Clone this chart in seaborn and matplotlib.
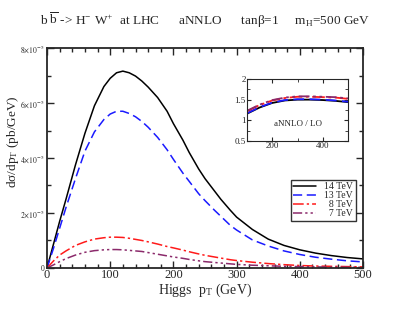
import numpy as np
import pandas as pd
import matplotlib
matplotlib.use("Agg")
import matplotlib.pyplot as plt
import seaborn as sns
from matplotlib.ticker import MultipleLocator, FixedLocator

# values (pT in GeV, dsigma/dpT in units of 1e-5 pb/GeV)
pt = [0, 10, 20, 30, 45, 60, 75, 90, 100, 110, 120, 130, 140, 150, 160, 175, 190,
      200, 215, 225, 240, 250, 265, 275, 290, 300, 325, 350, 375, 400, 425, 450, 475, 500]
xs14 = [0, 0.85, 1.7, 2.5, 3.75, 4.9, 5.9, 6.6, 6.9, 7.1, 7.16, 7.1, 6.98, 6.8, 6.58, 6.2, 5.7,
        5.25, 4.65, 4.2, 3.6, 3.25, 2.8, 2.5, 2.1, 1.85, 1.4, 1.05, 0.82, 0.66, 0.54, 0.45, 0.38, 0.33]
xs13 = [0, 0.7, 1.45, 2.2, 3.25, 4.25, 4.95, 5.4, 5.6, 5.7, 5.7, 5.62, 5.5, 5.33, 5.12, 4.75, 4.3,
        3.95, 3.45, 3.15, 2.7, 2.45, 2.1, 1.88, 1.55, 1.38, 1.02, 0.8, 0.62, 0.49, 0.39, 0.32, 0.26, 0.22]
xs8 = [0, 0.25, 0.47, 0.62, 0.82, 0.95, 1.05, 1.1, 1.12, 1.12, 1.11, 1.08, 1.04, 1.0, 0.95, 0.87, 0.78,
       0.73, 0.65, 0.59, 0.51, 0.46, 0.4, 0.36, 0.3, 0.27, 0.21, 0.16, 0.12, 0.09, 0.07, 0.06, 0.05, 0.04]
xs7 = [0, 0.11, 0.23, 0.34, 0.47, 0.57, 0.63, 0.66, 0.67, 0.67, 0.66, 0.64, 0.62, 0.6, 0.56, 0.5, 0.44,
       0.4, 0.35, 0.31, 0.26, 0.23, 0.2, 0.18, 0.15, 0.13, 0.1, 0.08, 0.06, 0.05, 0.04, 0.03, 0.025, 0.02]

# inset: aNNLO / LO ratio
pt_r = [100, 150, 200, 250, 300, 350, 400, 450, 500]
r14 = [1.16, 1.31, 1.42, 1.48, 1.50, 1.50, 1.49, 1.47, 1.44]
r13 = [1.17, 1.32, 1.43, 1.49, 1.51, 1.51, 1.50, 1.48, 1.45]
r8 = [1.22, 1.37, 1.48, 1.54, 1.57, 1.57, 1.56, 1.55, 1.52]
r7 = [1.23, 1.38, 1.49, 1.55, 1.58, 1.58, 1.57, 1.56, 1.53]

labels = ["14 TeV", "13 TeV", "\u20078 TeV", "\u20077 TeV"]
colors = ["black", "#1a1aff", "#ff1a1a", "#8b2a6b"]
dashes = [(None, None), (6, 3), (7, 2, 1.5, 2), (6, 2, 1.5, 2, 1.5, 2)]

sns.set_style("ticks")
plt.rcParams["font.family"] = ["Liberation Serif", "DejaVu Serif"]
plt.rcParams["mathtext.fontset"] = "stix"

fig = plt.figure(figsize=(4.09, 3.16), dpi=100)
ax = fig.add_axes([0.115, 0.152, 0.7725, 0.696])

df = pd.DataFrame({"pt": pt * 4,
                   "xs": np.concatenate([xs14, xs13, xs8, xs7]) * 1e-5,
                   "energy": np.repeat(labels, len(pt))})
for lab, c, d in zip(labels, colors, dashes):
    sub = df[df["energy"] == lab]
    sns.lineplot(data=sub, x="pt", y="xs", ax=ax, color=c, lw=1.1, label=lab)
    if d[0] is not None:
        ax.lines[-1].set_dashes(d)

ax.set_xlim(0, 500)
ax.set_ylim(0, 8e-5)
ax.xaxis.set_major_locator(MultipleLocator(100))
ax.xaxis.set_minor_locator(MultipleLocator(20))
ax.yaxis.set_major_locator(FixedLocator([0, 2e-5, 4e-5, 6e-5, 8e-5]))
ax.yaxis.set_minor_locator(MultipleLocator(1e-5))
ax.set_yticklabels(["0", r"$2{\times}10^{-5}$", r"$4{\times}10^{-5}$", r"$6{\times}10^{-5}$", r"$8{\times}10^{-5}$"])
ax.tick_params(which="both", direction="in", top=True, right=True, width=1)
ax.tick_params(which="major", length=5)
ax.tick_params(which="minor", length=3)
ax.tick_params(axis="x", labelsize=9, pad=1)
ax.tick_params(axis="y", labelsize=5.5, pad=2)
for s in ax.spines.values():
    s.set_linewidth(1.3)
ax.set_xlabel(r"Higgs  p$_\mathregular{T}$ (GeV)", fontsize=10, labelpad=0)
ax.set_ylabel("d\u03c3/dp$_\\mathregular{T}$ (pb/GeV)", fontsize=9.5)
ax.yaxis.set_label_coords(-0.082, 0.573)

leg = ax.legend(loc="upper left", bbox_to_anchor=(0.772, 0.40), fontsize=7, frameon=True,
                fancybox=False, edgecolor="black", handlelength=2.3, borderpad=0.25,
                labelspacing=0.0, handletextpad=0.9, borderaxespad=0)
leg.get_frame().set_linewidth(1.0)

# inset
ax2 = fig.add_axes([0.604, 0.554, 0.247, 0.196])
for r, c, d in zip([r14, r13, r8, r7], colors, dashes):
    sns.lineplot(x=pt_r, y=r, ax=ax2, color=c, lw=1.3)
    if d[0] is not None:
        ax2.lines[-1].set_dashes(d)
ax2.set_xlim(100, 500)
ax2.set_ylim(0.5, 2)
ax2.xaxis.set_major_locator(FixedLocator([200, 400]))
ax2.xaxis.set_minor_locator(MultipleLocator(100))
ax2.yaxis.set_major_locator(FixedLocator([0.5, 1, 1.5, 2]))
ax2.yaxis.set_minor_locator(MultipleLocator(0.25))
ax2.set_yticklabels(["0.5", "1", "1.5", "2"])
ax2.tick_params(which="both", direction="in", top=True, right=True, labelsize=6.5, pad=1)
ax2.tick_params(which="major", length=3)
ax2.tick_params(which="minor", length=2)
ax2.text(0.5, 0.28, "aNNLO / LO", transform=ax2.transAxes, ha="center", va="center", fontsize=6.5)

fig.text(0.5, 0.935, "b $\\mathregular{\\overline{b}}$ -> H$^\\mathregular{-}$ W$^\\mathregular{+}$  at LHC      aNNLO      tan\u03b2=1     m$_\\mathregular{H}$=500 GeV",
         ha="center", va="center", fontsize=9.5)

fig.savefig("out.png", dpi=100)
